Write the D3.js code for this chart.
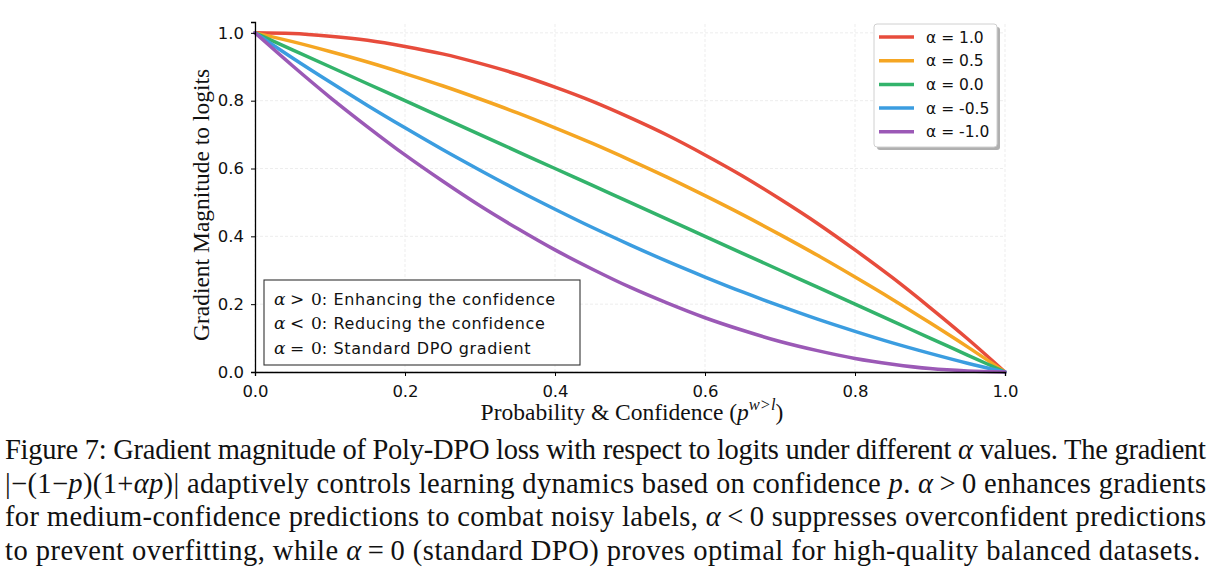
<!DOCTYPE html>
<html>
<head>
<meta charset="utf-8">
<script src="https://cdn.jsdelivr.net/npm/d3@7"></script>
<style>
  body { margin: 0; background: #fff; }
  svg { display: block; }
</style>
</head>
<body>
<svg></svg>
<script>
// p values along the x axis
const probs = [0, 0.05, 0.1, 0.15, 0.2, 0.25, 0.3, 0.35, 0.4, 0.45, 0.5,
  0.55, 0.6, 0.65, 0.7, 0.75, 0.8, 0.85, 0.9, 0.95, 1.0];

// gradient magnitude
const alphaPos10 = [1.000, 0.998, 0.990, 0.978, 0.960, 0.938, 0.910, 0.878, 0.840, 0.798, 0.750,
  0.698, 0.640, 0.578, 0.510, 0.438, 0.360, 0.278, 0.190, 0.098, 0.000];
const alphaPos05 = [1.000, 0.974, 0.945, 0.914, 0.880, 0.844, 0.805, 0.764, 0.720, 0.674, 0.625,
  0.574, 0.520, 0.464, 0.405, 0.344, 0.280, 0.214, 0.145, 0.074, 0.000];
const alphaZero = [1.000, 0.950, 0.900, 0.850, 0.800, 0.750, 0.700, 0.650, 0.600, 0.550, 0.500,
  0.450, 0.400, 0.350, 0.300, 0.250, 0.200, 0.150, 0.100, 0.050, 0.000];
const alphaNeg05 = [1.000, 0.926, 0.855, 0.786, 0.720, 0.656, 0.595, 0.536, 0.480, 0.426, 0.375,
  0.326, 0.280, 0.236, 0.195, 0.156, 0.120, 0.086, 0.055, 0.026, 0.000];
const alphaNeg10 = [1.000, 0.903, 0.810, 0.723, 0.640, 0.563, 0.490, 0.423, 0.360, 0.303, 0.250,
  0.203, 0.160, 0.123, 0.090, 0.063, 0.040, 0.023, 0.010, 0.003, 0.000];

const seriesNames = ["α = 1.0", "α = 0.5", "α = 0.0", "α = -0.5", "α = -1.0"];
const seriesValues = [alphaPos10, alphaPos05, alphaZero, alphaNeg05, alphaNeg10];
const colors = ["#e74c3c", "#f5a623", "#33b36b", "#3b9de0", "#9b59b6"];

const xTicks = [0, 0.2, 0.4, 0.6, 0.8, 1.0];
const yTicks = [0, 0.2, 0.4, 0.6, 0.8, 1.0];

const width = 1218;
const height = 579;
const margin = { left: 255, right: 213, top: 22, bottom: 207 };

const svg = d3.select("svg").attr("width", width).attr("height", height);

let xScale, yScale;

function generateScales() {
  xScale = d3.scaleLinear().domain([0, 1]).range([margin.left, width - margin.right]);
  yScale = d3.scaleLinear().domain([0, 1.032]).range([height - margin.bottom, margin.top]);
}

function drawGrid() {
  const g = svg.append("g").attr("class", "grid");
  g.selectAll("line.vx")
    .data(xTicks)
    .enter()
    .append("line")
    .attr("x1", (d) => xScale(d))
    .attr("x2", (d) => xScale(d))
    .attr("y1", yScale(0))
    .attr("y2", yScale(1.032))
    .attr("stroke", "#e8e8e8")
    .attr("stroke-width", 0.8)
    .attr("stroke-dasharray", "3,2");
  g.selectAll("line.hy")
    .data(yTicks)
    .enter()
    .append("line")
    .attr("x1", xScale(0))
    .attr("x2", xScale(1))
    .attr("y1", (d) => yScale(d))
    .attr("y2", (d) => yScale(d))
    .attr("stroke", "#e8e8e8")
    .attr("stroke-width", 0.8)
    .attr("stroke-dasharray", "3,2");
}

function drawLines() {
  const line = d3
    .line()
    .x((d, i) => xScale(probs[i]))
    .y((d) => yScale(d))
    .curve(d3.curveMonotoneX);

  svg
    .append("g")
    .selectAll("path")
    .data(seriesValues)
    .enter()
    .append("path")
    .attr("d", line)
    .attr("fill", "none")
    .attr("stroke", (d, i) => colors[i])
    .attr("stroke-width", 3.5)
    .attr("stroke-linecap", "round");
}

function generateAxes() {
  const xAxis = d3.axisBottom(xScale).tickValues(xTicks).tickFormat(d3.format(".1f"))
    .tickSizeOuter(0).tickSize(4).tickPadding(5);
  const gx = svg
    .append("g")
    .attr("transform", `translate(0, ${yScale(0)})`)
    .call(xAxis);
  gx.select(".domain").attr("stroke-width", 1.3);
  gx.selectAll("text")
    .attr("font-family", "DejaVu Sans")
    .attr("font-size", 16.5)
    .attr("fill", "#111")
    .attr("dy", "0.95em");

  const yAxis = d3.axisLeft(yScale).tickValues(yTicks).tickFormat(d3.format(".1f"))
    .tickSizeOuter(0).tickSize(4).tickPadding(7);
  const gy = svg
    .append("g")
    .attr("transform", `translate(${xScale(0)}, 0)`)
    .call(yAxis);
  gy.select(".domain").attr("stroke-width", 1.3);
  gy.selectAll("text")
    .attr("font-family", "DejaVu Sans")
    .attr("font-size", 16.5)
    .attr("fill", "#111");

  svg
    .append("text")
    .attr("x", 632)
    .attr("y", 420)
    .attr("text-anchor", "middle")
    .attr("font-family", "Liberation Serif")
    .attr("font-size", 23.5)
    .attr("fill", "#111")
    .call((t) => {
      t.append("tspan").text("Probability & Confidence (");
      t.append("tspan").attr("font-style", "italic").text("p");
      t.append("tspan").attr("font-style", "italic").attr("font-size", 16.5).attr("dy", -10).text("w>l");
      t.append("tspan").attr("dy", 10).text(")");
    });

  svg
    .append("text")
    .attr("transform", "rotate(-90)")
    .attr("x", -205)
    .attr("y", 209)
    .attr("text-anchor", "middle")
    .attr("font-family", "Liberation Serif")
    .attr("font-size", 23.5)
    .attr("fill", "#111")
    .text("Gradient Magnitude to logits");
}

function drawLegend() {
  const lx = 874, ly = 24, lw = 123, lh = 123;
  const g = svg.append("g");
  g.append("rect")
    .attr("x", lx + 3).attr("y", ly + 3).attr("width", lw).attr("height", lh)
    .attr("rx", 3).attr("fill", "#b0b0b0");
  g.append("rect")
    .attr("x", lx).attr("y", ly).attr("width", lw).attr("height", lh)
    .attr("rx", 3).attr("fill", "#fff").attr("stroke", "#d0d0d0");

  const rows = g
    .selectAll("g.row")
    .data(seriesNames)
    .enter()
    .append("g")
    .attr("transform", (d, i) => `translate(${lx}, ${ly + 13 + i * 23.7})`);
  rows.append("line")
    .attr("x1", 5).attr("x2", 40)
    .attr("stroke", (d, i) => colors[i])
    .attr("stroke-width", 3.5);
  rows.append("text")
    .attr("x", 52)
    .attr("dy", "0.36em")
    .attr("font-family", "DejaVu Sans")
    .attr("font-size", 15.5)
    .attr("fill", "#111")
    .text((d) => d);
}

function drawNote() {
  const notes = [
    [">", ": Enhancing the confidence"],
    ["<", ": Reducing the confidence"],
    ["=", ": Standard DPO gradient"]
  ];
  const g = svg.append("g");
  g.append("rect")
    .attr("x", 264).attr("y", 280).attr("width", 316).attr("height", 85)
    .attr("fill", "#fff").attr("stroke", "#333").attr("stroke-width", 1.1);
  const t = g
    .selectAll("text")
    .data(notes)
    .enter()
    .append("text")
    .attr("y", (d, i) => 304.5 + i * 24.8)
    .attr("fill", "#111");
  t.append("tspan").attr("x", 274).attr("font-family", "DejaVu Serif").attr("font-style", "italic")
    .attr("font-size", 17).text("α");
  t.append("tspan").attr("x", 290).attr("font-family", "DejaVu Serif").attr("font-size", 17).text((d) => d[0]);
  t.append("tspan").attr("x", 311).attr("font-family", "DejaVu Serif").attr("font-size", 17).text("0");
  t.append("tspan").attr("font-family", "DejaVu Sans").attr("font-size", 16)
    .attr("letter-spacing", 0.6).text((d) => d[1]);
}

function drawCaption() {
  const lines = [
    [["Figure 7: Gradient magnitude of Poly-DPO loss with respect to logits under different ", ""], ["α", "i"], [" values. The gradient", ""]],
    [["|−(1−", ""], ["p", "i"], [")(1+", ""], ["αp", "i"], [")| adaptively controls learning dynamics based on confidence ", ""], ["p", "i"], [". ", ""], ["α", "i"], ["\u2009>\u20090 enhances gradients", ""]],
    [["for medium-confidence predictions to combat noisy labels, ", ""], ["α", "i"], ["\u2009<\u20090 suppresses overconfident predictions", ""]],
    [["to prevent overfitting, while ", ""], ["α", "i"], ["\u2009=\u20090 (standard DPO) proves optimal for high-quality balanced datasets.", ""]]
  ];
  const lengths = [1201, 1201, 1201, 1195];
  const t = svg
    .selectAll("text.caption")
    .data(lines)
    .enter()
    .append("text")
    .attr("class", "caption")
    .attr("x", 5)
    .attr("y", (d, i) => 459 + i * 33.5)
    .attr("font-family", "Liberation Serif")
    .attr("font-size", 28.5)
    .attr("fill", "#111")
    .attr("textLength", (d, i) => lengths[i])
    .attr("lengthAdjust", "spacing");
  t.each(function (d) {
    const el = d3.select(this);
    d.forEach((part) => {
      const s = el.append("tspan").text(part[0]);
      if (part[1] === "i") s.attr("font-style", "italic");
    });
  });
}

generateScales();
drawGrid();
drawLines();
generateAxes();
drawLegend();
drawNote();
drawCaption();
</script>
</body>
</html>
